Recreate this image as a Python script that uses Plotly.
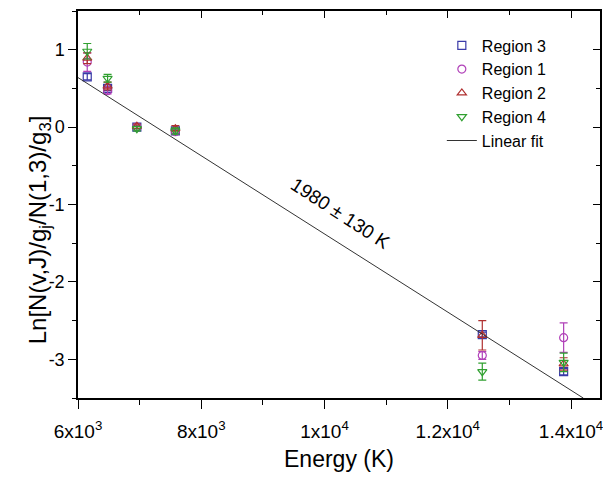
import plotly.graph_objects as go

energy = [6150, 6480, 6955, 7580, 12560, 13880]

region3 = [0.65, 0.50, 0.00, -0.05, -2.68, -3.16]
region3_err = [0.04, 0.03, 0.02, 0.03, 0.03, 0.04]
region1 = [0.84, 0.47, 0.00, -0.06, -2.95, -2.72]
region1_err = [0.12, 0.04, 0.02, 0.03, 0.05, 0.19]
region2 = [0.89, 0.53, 0.01, -0.02, -2.69, -3.06]
region2_err = [0.07, 0.05, 0.03, 0.04, 0.19, 0.08]
region4 = [0.98, 0.63, -0.02, -0.05, -3.16, -3.04]
region4_err = [0.10, 0.05, 0.03, 0.04, 0.11, 0.12]

fit_T = 1980.0
fit_intercept = 3.67
fit_x = [6000, 14200]

x_tickvals = [6000, 8000, 10000, 12000, 14000]
x_ticktext = ["6x10<sup>3</sup>", "8x10<sup>3</sup>", "1x10<sup>4</sup>", "1.2x10<sup>4</sup>", "1.4x10<sup>4</sup>"]
y_tickvals = [-3, -2, -1, 0, 1]
y_ticktext = ["-3", "-2", "-1", "0", "1"]

FONT = "Liberation Sans, Arial, sans-serif"

series = [
    ("Region 3", region3, region3_err, "square-open", "#3a3aa8"),
    ("Region 1", region1, region1_err, "circle-open", "#b040b8"),
    ("Region 2", region2, region2_err, "triangle-up-open", "#b03030"),
    ("Region 4", region4, region4_err, "triangle-down-open", "#30a030"),
]

fig = go.Figure()
for name, y, err, sym, col in series:
    fig.add_trace(go.Scatter(
        x=energy, y=y, mode="markers", name=name,
        marker=dict(symbol=sym, size=8, color=col, line=dict(width=1.2, color=col)),
        error_y=dict(type="data", array=err, visible=True, color=col, thickness=1.2, width=4),
    ))

fy = [fit_intercept - xv / fit_T for xv in fit_x]
fig.add_trace(go.Scatter(x=fit_x, y=fy, mode="lines", name="Linear fit",
                         line=dict(color="#333333", width=1)))

fig.add_annotation(x=10260, y=-1.11, text="1980 ± 130 K", showarrow=False,
                   textangle=33, font=dict(family=FONT, size=19, color="black"))

# y-axis title placed as a rotated annotation
fig.add_annotation(xref="paper", yref="paper", x=-0.107, y=0.435,
                   text="Ln[N(v,J)/g<sub>j</sub>/N(1,3)/g<sub>3</sub>]",
                   showarrow=False, textangle=-90,
                   font=dict(family=FONT, size=24, color="black"))

xr = [6000, 14470]
yr = [-3.5, 1.5]

fig.update_layout(
    width=603, height=482,
    margin=dict(l=78, r=0, t=11, b=84),
    paper_bgcolor="white", plot_bgcolor="white",
    font=dict(family=FONT, size=18, color="black"),
    showlegend=True,
    legend=dict(x=0.697, y=0.955, xanchor="left", yanchor="top",
                bgcolor="rgba(0,0,0,0)", font=dict(family=FONT, size=16),
                itemwidth=30, tracegroupgap=0),
    xaxis=dict(range=xr, tickmode="array", tickvals=x_tickvals, ticktext=x_ticktext,
               ticks="outside", ticklen=9, tickwidth=1.2, tickcolor="black",
               ticklabelstandoff=6, ticklabeloverflow="allow",
               showline=True, linecolor="black", linewidth=1.5, showgrid=False, zeroline=False,
               minor=dict(tickmode="linear", tick0=0, dtick=1000, ticks="outside", ticklen=5,
                          tickwidth=1.2, tickcolor="black", showgrid=False),
               title=dict(text="Energy (K)", font=dict(family=FONT, size=23), standoff=10),
               tickfont=dict(family=FONT, size=19)),
    yaxis=dict(range=yr, tickmode="array", tickvals=y_tickvals, ticktext=y_ticktext,
               ticks="outside", ticklen=8, tickwidth=1.2, tickcolor="black",
               showline=True, linecolor="black", linewidth=1.5, showgrid=False, zeroline=False,
               minor=dict(tickmode="linear", tick0=0, dtick=0.5, ticks="outside", ticklen=4,
                          tickwidth=1.2, tickcolor="black", showgrid=False),
               tickfont=dict(family=FONT, size=18)),
    xaxis2=dict(range=xr, overlaying="x", side="top", tickmode="linear", tick0=0, dtick=2000,
                ticks="inside", ticklen=7, tickwidth=1.2, tickcolor="black",
                showticklabels=False, showline=True, linecolor="black", linewidth=1.5,
                showgrid=False, zeroline=False,
                minor=dict(tickmode="linear", tick0=0, dtick=1000, ticks="inside", ticklen=4,
                           tickwidth=1.2, tickcolor="black", showgrid=False)),
    yaxis2=dict(range=yr, overlaying="y", side="right", tickmode="linear", tick0=0, dtick=1,
                ticks="inside", ticklen=7, tickwidth=1.2, tickcolor="black",
                showticklabels=False, showline=True, linecolor="black", linewidth=1.5,
                showgrid=False, zeroline=False,
                minor=dict(tickmode="linear", tick0=0, dtick=0.5, ticks="inside", ticklen=4,
                           tickwidth=1.2, tickcolor="black", showgrid=False)),
)

fig.add_trace(go.Scatter(x=[None], y=[None], xaxis="x2", yaxis="y2", showlegend=False,
                         hoverinfo="skip"))

fig.write_html("out.html")
